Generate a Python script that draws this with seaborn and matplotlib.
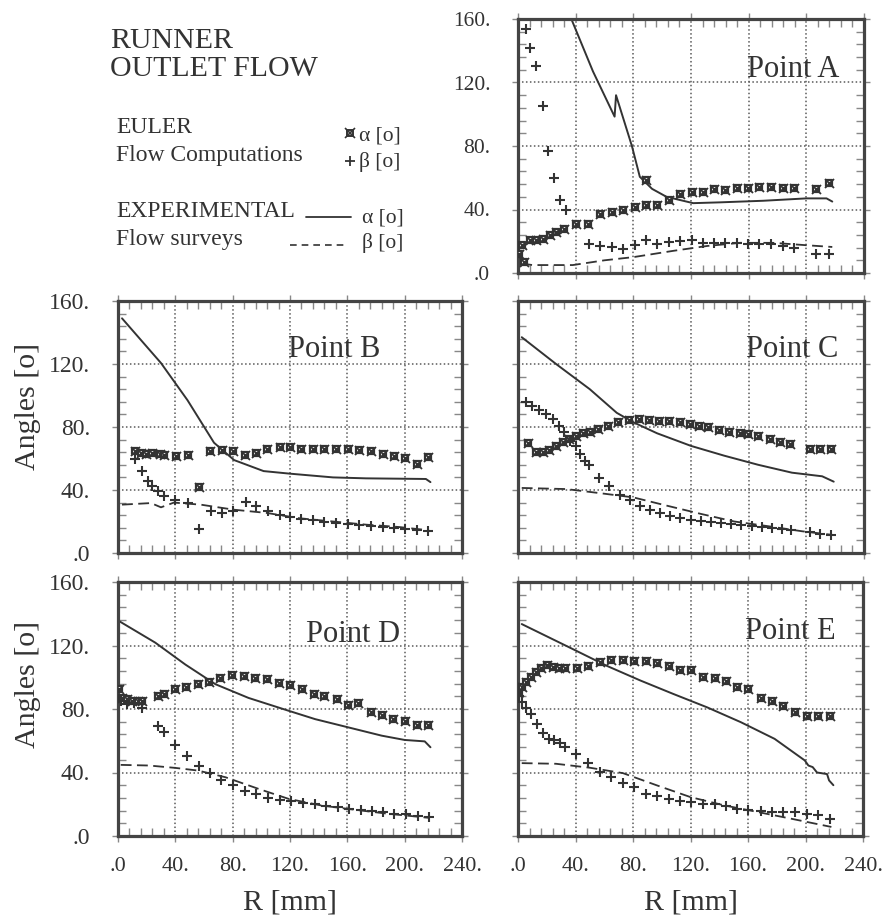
import matplotlib.pyplot as plt
import seaborn as sns
from matplotlib.lines import Line2D
from matplotlib.ticker import MultipleLocator

sns.set_theme(style="ticks")
plt.rcParams["font.family"] = ["Liberation Serif", "DejaVu Serif"]

INK = "#333333"
GRID = "#5a5a5a"

x_ticks = [0, 40, 80, 120, 160, 200, 240]
x_ticklabels = [".0", "40.", "80.", "120.", "160.", "200.", "240."]
y_ticks = [0, 40, 80, 120, 160]
y_ticklabels = [".0", "40.", "80.", "120.", "160."]

# ---- Point A ----
A_exp_alpha_r = [37, 52, 67, 68, 79, 84.5, 93, 103, 121.5, 140, 170, 200, 214, 218]
A_exp_alpha = [160, 127, 98.5, 112, 80, 60.6, 53, 48, 44, 44.5, 45.5, 47, 47, 45]
A_exp_beta_r = [2.3, 10, 38, 60, 80, 108, 131, 154, 177, 200, 218]
A_exp_beta = [6, 5, 5, 8, 10, 14, 17, 19, 19, 17.5, 16.4]
A_eul_alpha_r = [1, 3, 4.5, 8, 12.7, 17, 22, 26.6, 32, 40.5, 48.6, 57, 65, 72.5, 81, 88.7,
                 89, 96.5, 105, 112.7, 120.4, 128.5, 136, 143.5, 151.6, 159.7, 167, 175.5,
                 183.6, 191.7, 207, 216]
A_eul_alpha = [12, 17.5, 7, 20.6, 21, 21.7, 23.8, 26, 28, 30.7, 30.7, 37, 38.5, 40, 41.7, 42.7,
               58.5, 42.7, 46, 49.7, 51, 51, 52.6, 52.2, 53.3, 53.3, 54, 54,
               53.3, 53.3, 52.6, 56.4]
A_eul_beta_r = [5.3, 8.6, 12.7, 17, 21, 25, 29, 33, 49, 56.7, 65, 72.5, 81, 89, 96.5, 105,
                112.7, 120.4, 128.5, 136, 143.5, 151.6, 159.7, 167, 175.5, 183.6, 191.7,
                207, 216]
A_eul_beta = [154, 142, 130.5, 105, 77, 60, 46, 39.6, 18.5, 17, 16.4, 15.4, 17.5, 20.6, 18.5,
              19.6, 20.2, 20.6, 19, 19, 19, 19, 18.5, 18, 18, 17, 16, 12, 12]

# ---- Point B ----
B_exp_alpha_r = [2.8, 30, 48.5, 67, 81, 101.6, 119.6, 150, 173, 214.8, 218]
B_exp_alpha = [149, 120.6, 97, 70, 59, 52, 50.4, 48, 47.4, 47, 45]
B_exp_beta_r = [2.8, 23, 30, 39, 57.7, 80.8, 104, 127, 150, 173, 196, 217]
B_exp_beta = [30.7, 31.7, 29, 32, 30.7, 27.5, 25.4, 22, 20, 18, 16.5, 14.4]
B_eul_alpha_r = [12.2, 15.7, 19.6, 24, 29.6, 32, 40.4, 48.5, 56.6, 64, 72.7, 80.4, 88.5,
                 96.5, 104, 112.7, 120, 128, 136, 144, 152.4, 160.5, 168, 176.7, 184.6,
                 192.8, 200.5, 208.3, 216.6]
B_eul_alpha = [65, 63.5, 63, 63.5, 63, 62.4, 61.4, 62.4, 42, 65, 65.6, 64.5, 62.4,
               63.5, 66, 67.3, 67.3, 66, 66, 66, 66, 66, 65.6, 64.5, 63,
               61.4, 60.3, 56.7, 61]
B_eul_beta_r = [12.2, 16.9, 20.8, 24, 28, 32, 39.7, 49, 56.6, 64.7, 72.7, 80.4, 89, 96.5,
                104.4, 112.7, 120, 128, 136, 144, 152.4, 160.5, 168, 176.7, 184.6, 192.8,
                200.5, 208.3, 216.6]
B_eul_beta = [59.7, 51.8, 46, 42.3, 39.6, 36.4, 33.4, 31.7, 15.2, 26.5, 25.4, 26.5, 32.6, 29.6,
              26.5, 24.3, 22.6, 21.6, 20.7, 20, 19, 18.6, 18, 17, 16.5, 15.9,
              15.2, 14.8, 13.8]

# ---- Point C ----
C_exp_alpha_r = [2.6, 26.4, 49.8, 68.5, 80, 96.5, 120, 143, 166.6, 190, 211, 219]
C_exp_alpha = [137, 120, 104, 89, 83, 76, 68, 61.8, 56, 51, 48.7, 45.3]
C_exp_beta_r = [2.6, 33.4, 56.8, 80, 103.5, 127, 150, 173.6, 197, 219]
C_exp_beta = [41.3, 40.6, 38, 35.3, 30, 24.8, 20, 17, 13.8, 11.4]
C_eul_alpha_r = [7.2, 12.4, 17, 21.7, 26.4, 31, 35.7, 40.4, 45, 49.8, 55.6, 62.6, 69.6, 77.3,
                 84, 90.6, 97.6, 104.7, 112.4, 119.4, 125.7, 131.5, 139.7, 146.7, 153.7,
                 159.6, 166.6, 174.8, 181.8, 188.8, 202.8, 209.8, 216.8]
C_eul_alpha = [70, 64, 64.3, 65.6, 68, 70.7, 72.4, 74.5, 76.2, 77, 78.7, 80.8, 83, 84.4,
               85, 84.6, 84, 84, 83, 82, 80.8, 79.8, 78.3, 77, 76.2,
               75.5, 74.5, 72.4, 70.7, 69.2, 66, 66, 66]
C_eul_beta_r = [5.8, 10, 14.7, 19.4, 24, 28.3, 32.2, 36.2, 40.4, 42.8, 46.3, 49.3, 56.3, 63.3,
                70.8, 77.8, 84.3, 91.4, 98.4, 105.4, 112.4, 119.9, 126.9, 133.9, 140.9,
                148, 155, 162, 169, 176, 183, 189.5, 202.8, 209.8, 216.8]
C_eul_beta = [95.7, 93.5, 91, 88.3, 85, 80.8, 76.6, 71.3, 67.7, 62.9, 58.6, 55.9, 47.6, 42.8,
              37, 33.9, 29.6, 27.5, 25.4, 23.3, 22, 21.2, 20.1, 19.5, 18.8,
              18.4, 17.8, 16.9, 16.3, 15.9, 15.2, 14.8, 13.5, 12, 11.4]

# ---- Point D ----
D_exp_alpha_r = [0.7, 26, 47, 68, 91, 119, 137.6, 160.8, 184, 200, 214, 218]
D_exp_alpha = [135.4, 121.8, 108, 95.6, 87, 78.9, 73.6, 68.4, 63.2, 60.5, 59.6, 55.9]
D_exp_beta_r = [1.9, 21.6, 40, 56, 75, 98, 119, 142, 165.4, 188.6, 216.5]
D_exp_beta = [44.8, 44.4, 42.9, 41.2, 37, 29.7, 23.4, 19.2, 16.5, 14, 11.5]
D_eul_alpha_r = [0.7, 2.5, 6.5, 10, 14, 17, 28, 32, 39.7, 47.6, 56, 63.8, 71.5, 79.6, 87.7,
                 95.8, 104, 112, 120, 128.3, 136.4, 144, 152.7, 160.3, 167.7, 176.6,
                 184.5, 192, 200, 208.3, 216.5]
D_eul_alpha = [92.5, 87.2, 86, 85, 85, 85, 88.3, 89.3, 92.5, 94, 95.6, 97.3, 99.4, 101.3, 100.8,
               99.4, 98.7, 96.6, 95, 92.5, 89.3, 88.3, 86.2, 82.6, 83.5, 78.2,
               76.1, 73.6, 72.2, 70.1, 70.1]
D_eul_beta_r = [2, 6.5, 11, 16.5, 28, 32, 40, 48.3, 56.4, 64.5, 72.2, 80.3, 88.4, 96.3, 104.6,
                112.8, 120.9, 128.8, 137.1, 145, 153.4, 161.3, 169.6, 177, 185, 192.8,
                200.7, 209, 216.9]
D_eul_beta = [85, 83, 84, 80.5, 69.5, 65.3, 57.5, 50.6, 44.4, 39.5, 35.3, 32.4, 28.6, 26.2, 24,
              22.8, 22, 20.7, 19.9, 19.2, 18.2, 17.2, 16.5, 15.7, 15, 14,
              13.6, 12.3, 11.9]

# ---- Point E ----
E_exp_alpha_r = [2.6, 38, 61.5, 85, 108, 131.7, 155, 178.5, 199.5, 202, 205, 208, 215, 216.4,
                 219.4]
E_exp_alpha = [133.5, 117.8, 107.3, 98, 89.5, 81, 71.7, 61.2, 47.6, 44.4, 43.4, 40, 39, 35, 32]
E_exp_beta_r = [2.6, 26.4, 50, 73, 96.6, 120, 143.4, 166.8, 190, 218]
E_exp_beta = [45.9, 45.5, 43, 39.6, 31.9, 24.5, 19.3, 15.1, 10.9, 5.7]
E_eul_alpha_r = [0.7, 2.6, 5.4, 8.9, 12.4, 15.9, 19.9, 24, 28.3, 33, 41, 48.7, 56.8, 65, 72.7,
                 80.7, 89, 96.6, 104.8, 112.5, 120.5, 128.9, 136.8, 144.6, 152.3, 160.2,
                 168.7, 176.6, 184.3, 192.5, 200.7, 208.9, 217]
E_eul_alpha = [90.6, 93.7, 96.9, 100, 103.1, 105.9, 108, 106.7, 105.9, 105.9, 105.9, 107.3,
               109.4, 110.9, 110.9, 110, 110.5, 108.8, 107.3, 104.6, 104.6, 100, 99.6, 97.9,
               94.1, 92.7, 87, 85.3, 82.2, 78, 75.9, 75.9, 75.9]
E_eul_beta_r = [0.7, 3, 5.8, 8.9, 12.9, 17.5, 21.8, 25.3, 29.2, 33, 40.5, 48.7, 56.8, 65, 72.7,
                80.7, 89, 96.6, 104.8, 112.5, 120.5, 128.9, 136.8, 144.6, 152.3, 160.2,
                168.7, 176.6, 184.3, 192.5, 200.7, 208.9, 217]
E_eul_beta = [88.5, 84.3, 80.7, 76.9, 70.6, 64.8, 61.2, 60.2, 58.5, 56, 51.4, 45.9, 40.3, 37.1,
              33.3, 30.8, 26.6, 24.9, 23.5, 22, 21.4, 19.9, 19.9, 18.7, 17.2, 16.6,
              15.7, 15.1, 15.1, 15.1, 14, 13, 10.9]

W, H = 885, 916


def fig_rect(left, top, right, bottom):
    return [left / W, 1 - bottom / H, (right - left) / W, (bottom - top) / H]


def draw_panel(ax, title, title_xy, exp_ar, exp_a, exp_br, exp_b, eul_ar, eul_a, eul_br, eul_b,
               show_x, show_y, ysize=15.5):
    # experimental surveys
    sns.lineplot(x=exp_ar, y=exp_a, sort=False, estimator=None, color=INK, lw=1.4, ax=ax)
    sns.lineplot(x=exp_br, y=exp_b, sort=False, estimator=None, color=INK, lw=1.3,
                 linestyle=(0, (6, 3)), ax=ax)
    # euler computations
    sns.scatterplot(x=eul_ar, y=eul_a, marker="s", s=24, color=INK, facecolor="white",
                    edgecolor=INK, linewidth=1.6, ax=ax, zorder=3)
    sns.scatterplot(x=eul_ar, y=eul_a, marker="x", s=42, color=INK, linewidth=1.3, ax=ax,
                    zorder=4)
    sns.scatterplot(x=eul_br, y=eul_b, marker="+", s=55, color=INK, linewidth=1.5, ax=ax,
                    zorder=3)

    ax.set_xlim(0, 240)
    ax.set_ylim(0, 160)
    ax.set_xticks(x_ticks)
    ax.set_yticks(y_ticks)
    ax.xaxis.set_minor_locator(MultipleLocator(8))
    ax.yaxis.set_minor_locator(MultipleLocator(8))
    ax.grid(True, which="major", color=GRID, linestyle=(0, (1, 1.6)), lw=1.1)
    ax.tick_params(which="major", direction="out", length=4, width=1, color="#888",
                   top=True, right=True, labelcolor=INK, pad=11)
    ax.tick_params(which="minor", direction="in", length=6, width=1, color="#888",
                   top=True, right=True)
    ax.set_xticklabels(x_ticklabels if show_x else [], fontsize=16)
    ax.set_yticklabels(y_ticklabels if show_y else [], fontsize=ysize)
    ax.tick_params(axis="y", pad=16)
    for sp in ax.spines.values():
        sp.set_linewidth(2.3)
        sp.set_color("#444")
    ax.set_xlabel("")
    ax.set_ylabel("")
    ax.text(title_xy[0], title_xy[1], title, ha="right", va="center", fontsize=22, color=INK)


fig = plt.figure(figsize=(W / 100, H / 100), dpi=100)

axA = fig.add_axes(fig_rect(518, 19, 864, 273))
axB = fig.add_axes(fig_rect(118, 301, 462, 553))
axC = fig.add_axes(fig_rect(518, 301, 864, 553))
axD = fig.add_axes(fig_rect(118, 582, 462, 836))
axE = fig.add_axes(fig_rect(518, 582, 863, 836))

draw_panel(axA, "Point A", (223, 128), A_exp_alpha_r, A_exp_alpha, A_exp_beta_r, A_exp_beta,
           A_eul_alpha_r, A_eul_alpha, A_eul_beta_r, A_eul_beta, False, True, ysize=15.5)
draw_panel(axB, "Point B", (183, 129), B_exp_alpha_r, B_exp_alpha, B_exp_beta_r, B_exp_beta,
           B_eul_alpha_r, B_eul_alpha, B_eul_beta_r, B_eul_beta, False, True, ysize=17)
draw_panel(axC, "Point C", (222, 129), C_exp_alpha_r, C_exp_alpha, C_exp_beta_r, C_exp_beta,
           C_eul_alpha_r, C_eul_alpha, C_eul_beta_r, C_eul_beta, False, False)
draw_panel(axD, "Point D", (197, 127), D_exp_alpha_r, D_exp_alpha, D_exp_beta_r, D_exp_beta,
           D_eul_alpha_r, D_eul_alpha, D_eul_beta_r, D_eul_beta, True, True, ysize=17)
draw_panel(axE, "Point E", (221, 129), E_exp_alpha_r, E_exp_alpha, E_exp_beta_r, E_exp_beta,
           E_eul_alpha_r, E_eul_alpha, E_eul_beta_r, E_eul_beta, True, False)

for ax, ly in [(axB, 0.58), (axD, 0.595)]:
    ax.set_ylabel("Angles [o]", fontsize=21.5, color=INK)
    ax.yaxis.label.set_va("center")
    ax.yaxis.set_label_coords(-0.262, ly)
for ax in (axD, axE):
    ax.set_xlabel("R [mm]", fontsize=21.5, color=INK)
    ax.xaxis.label.set_va("center")
    ax.xaxis.set_label_coords(0.5, -0.26)


# legend block in the top-left corner
def fx(px):
    return px / W


def fy(py):
    return 1 - py / H


fig.text(fx(110), fy(48), "RUNNER", fontsize=21.5, color=INK, va="baseline")
fig.text(fx(110), fy(76), "OUTLET FLOW", fontsize=21.5, color=INK, va="baseline")
fig.text(fx(116), fy(133), "EULER", fontsize=17, color=INK, va="baseline")
fig.text(fx(116), fy(161), "Flow Computations", fontsize=17, color=INK, va="baseline")
fig.text(fx(116), fy(217), "EXPERIMENTAL", fontsize=17, color=INK, va="baseline")
fig.text(fx(116), fy(245), "Flow surveys", fontsize=17, color=INK, va="baseline")
fig.text(fx(359), fy(141), "α [o]", fontsize=15.5, color=INK, va="baseline")
fig.text(fx(359), fy(167), "β [o]", fontsize=15.5, color=INK, va="baseline")
fig.text(fx(362), fy(222), "α [o]", fontsize=15.5, color=INK, va="baseline")
fig.text(fx(362), fy(248), "β [o]", fontsize=15.5, color=INK, va="baseline")

fig.add_artist(Line2D([fx(350)], [fy(133)], marker="s", ms=5, mfc="white", mec=INK, mew=1.4,
                      transform=fig.transFigure))
fig.add_artist(Line2D([fx(350)], [fy(133)], marker="x", ms=6.5, mec=INK, mew=1.2,
                      transform=fig.transFigure))
fig.add_artist(Line2D([fx(350)], [fy(161)], marker="+", ms=7, mec=INK, mew=1.3,
                      transform=fig.transFigure))
fig.add_artist(Line2D([fx(306), fx(351)], [fy(217), fy(217)], color=INK, lw=1.3,
                      transform=fig.transFigure))
fig.add_artist(Line2D([fx(290), fx(344)], [fy(245), fy(245)], color=INK, lw=1.2,
                      linestyle=(0, (4, 3)), transform=fig.transFigure))

fig.savefig("out.png", dpi=100)
